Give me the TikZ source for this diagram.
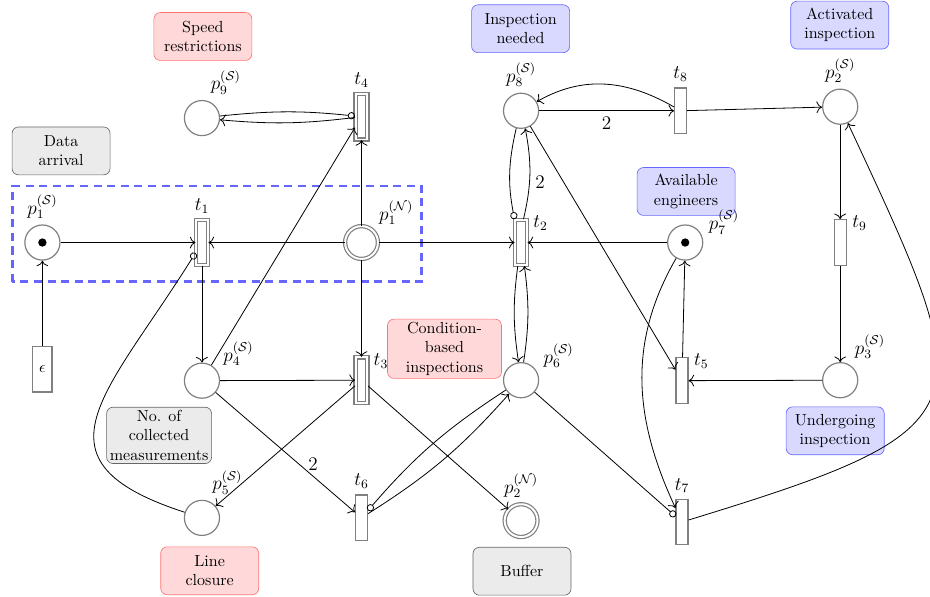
\documentclass[tikz,border=0pt]{standalone}
\usepackage{amsmath,amssymb}
\usetikzlibrary{arrows.meta}

\begin{document}
\begin{tikzpicture}[
  place/.style={circle, draw=black!50, line width=0.75pt, minimum size=7.7mm, inner sep=0pt},
  dplace/.style={place, double, double distance=1.2pt, minimum size=7.2mm},
  trans/.style={rectangle, draw=black!50, line width=0.75pt, minimum width=2.6mm, minimum height=10mm, inner sep=0pt},
  dtrans/.style={trans, double, double distance=1.2pt},
  cbox/.style={rounded corners=4pt, align=center, minimum width=21.5mm, minimum height=10.5mm, inner sep=2pt},
  redbox/.style={cbox, draw=red!55, fill=red!15},
  bluebox/.style={cbox, draw=blue!60, fill=blue!15},
  graybox/.style={cbox, draw=black!60, fill=black!8},
  flow/.style={-{To[length=3.5pt]}, line width=0.5pt},
  inhib/.style={-{Circle[open, length=4.5pt]}, line width=0.5pt},
  zone/.style={draw=blue!60, line width=1.6pt, dash pattern=on 5pt off 3.5pt},
  every label/.style={font=\large},
]
  \useasboundingbox (-0.93,-7.77) rectangle (19.47,5.32);

  % annotations
  \node[redbox] (speed) at (3.52,4.52) {Speed\\restrictions};
  \node[graybox] (data) at (0.41,2.01) {Data\\arrival};
  \node[bluebox] (needed) at (10.49,4.69) {Inspection\\needed};
  \node[bluebox] (active) at (17.49,4.77) {Activated\\inspection};
  \node[bluebox] (engs) at (14.12,1.12) {Available\\engineers};
  \node[redbox, minimum width=25mm] (cbased) at (8.82,-2.33) {Condition-\\based\\inspections};
  \node[graybox] (count) at (2.56,-4.23) {No. of\\collected\\measurements};
  \node[redbox] (closure) at (3.67,-7.2) {Line\\closure};
  \node[graybox] (buffer) at (10.52,-7.21) {Buffer};
  \node[bluebox] (ongoing) at (17.39,-4.13) {Undergoing\\inspection};

  \draw[zone] (-0.66,-0.86) rectangle (8.32,1.24);

  % places
  \node[place, label=above:{$p_1^{(\mathcal{S})}$}] (p1S) at (0,0) {};
  \node[dplace, label=45:{$p_1^{(\mathcal{N})}$}] (p1N) at (7,0) {};
  \node[place, label=8:{$p_7^{(\mathcal{S})}$}] (p7S) at (14.1,0) {};
  \node[place, label=80:{$p_9^{(\mathcal{S})}$}] (p9S) at (3.5,2.73) {};
  \node[place, label=above:{$p_8^{(\mathcal{S})}$}] (p8S) at (10.5,2.89) {};
  \node[place, label=above:{$p_2^{(\mathcal{S})}$}] (p2S) at (17.5,2.98) {};
  \node[place, label=30:{$p_4^{(\mathcal{S})}$}] (p4S) at (3.5,-3.03) {};
  \node[place, label=22:{$p_6^{(\mathcal{S})}$}] (p6S) at (10.5,-3.02) {};
  \node[place, label=60:{$p_3^{(\mathcal{S})}$}] (p3S) at (17.5,-3.02) {};
  \node[place, label=75:{$p_5^{(\mathcal{S})}$}] (p5S) at (3.5,-6.04) {};
  \node[dplace, label=above:{$p_2^{(\mathcal{N})}$}] (p2N) at (10.5,-6.1) {};
  \fill (p1S) circle (2.6pt);
  \fill (p7S) circle (2.6pt);

  % transitions
  \node[trans, inner sep=4pt] (eps) at (0,-2.78) {$\epsilon$};
  \node[dtrans, label=above:{$t_1$}] (t1) at (3.5,0) {};
  \node[dtrans, label=above right:{$t_2$}] (t2) at (10.5,0) {};
  \node[trans, label=above right:{$t_9$}] (t9) at (17.5,0) {};
  \node[dtrans, label=above:{$t_4$}] (t4) at (7,2.76) {};
  \node[trans, label=above:{$t_8$}] (t8) at (14,2.89) {};
  \node[dtrans, label=above right:{$t_3$}] (t3) at (7,-3.02) {};
  \node[trans, label=above right:{$t_5$}] (t5) at (14.03,-3.03) {};
  \node[trans, label=above:{$t_6$}] (t6) at (7,-6.04) {};
  \node[trans, label=above:{$t_7$}] (t7) at (14.03,-6.13) {};

  % arcs
  \draw[flow] (eps) -- (p1S);
  \draw[flow] (p1S) -- (t1);
  \draw[flow] (p1N) -- (t1);
  \draw[flow] (p1N) -- (t2);
  \draw[flow] (p1N) -- (t4);
  \draw[flow] (p1N) -- (t3);
  \draw[flow] (t1) -- (p4S);
  \draw[inhib] (p5S) to[out=162, in=238, looseness=1.65] (t1);
  \draw[flow] (p4S) -- (t4);
  \draw[flow] (p4S) -- (t3);
  \draw[flow] (p4S) -- node[pos=0.7, above, font=\large] {2} (t6);
  \draw[flow] (t3) -- (p5S);
  \draw[flow] (t3) -- (p2N);
  \draw[inhib] (p9S) to[bend left=6] (t4);
  \draw[flow] (t4) to[bend left=6] (p9S);
  \draw[flow] (p8S) -- node[below, font=\large] {2} (t8);
  \draw[flow] (t8) to[out=150, in=30] (p8S);
  \draw[flow] (t8) -- (p2S);
  \draw[flow] (p2S) -- (t9);
  \draw[flow] (t9) -- (p3S);
  \draw[flow] (p3S) -- (t5);
  \draw[flow] (t5) -- (p7S);
  \draw[flow] (p7S) -- (t2);
  \draw[inhib] (p8S) to[bend right=12] (t2.north west);
  \draw[flow] ([xshift=1.5pt]t2.north) to[bend right=12] node[pos=0.4, right, font=\large] {2} (p8S);
  \draw[flow] (t2) to[bend right=8] (p6S);
  \draw[flow] (p6S) to[bend right=8] (t2);
  \draw[flow] (p8S) -- (t5);
  \draw[inhib] (p6S) -- (t7);
  \draw[flow] (p7S) to[out=-120, in=115] (t7);
  \draw[flow] (t7) to[out=17, in=-65, looseness=1.9] (p2S);
  \draw[inhib] (p6S) to[bend right=8] (t6);
  \draw[flow] (t6) to[bend right=8] (p6S);
\end{tikzpicture}
\end{document}
